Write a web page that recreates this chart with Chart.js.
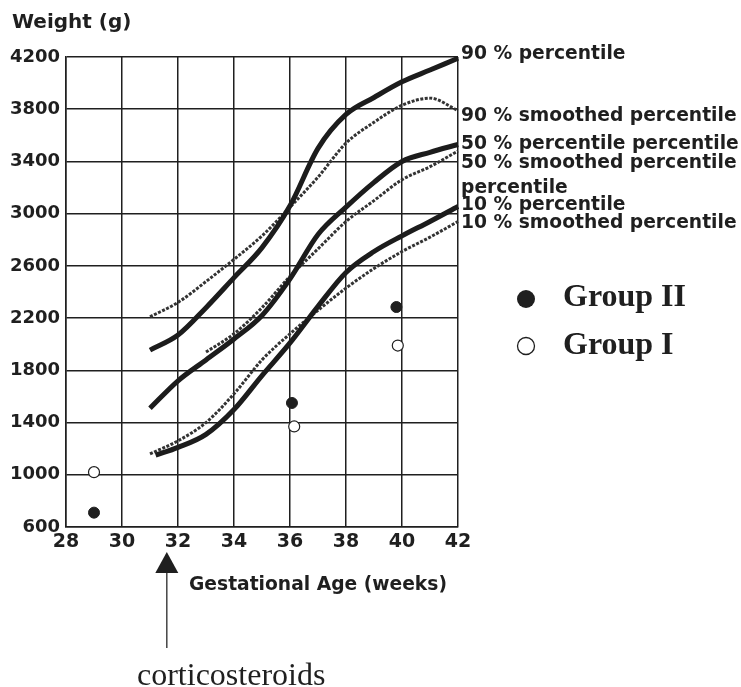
<!DOCTYPE html>
<html>
<head>
<meta charset="utf-8">
<script src="https://cdn.jsdelivr.net/npm/chart.js@4/dist/chart.umd.min.js"></script>
<style>
  html, body { margin: 0; padding: 0; background: #fff; }
  #wrap { width: 741px; height: 687px; }
</style>
</head>
<body>
<div id="wrap"><canvas id="myChart" width="741" height="687"></canvas></div>
<script>
// gestational weeks on the x axis
const weeks = [31, 32, 33, 34, 35, 36, 37, 38, 39, 40, 41, 42]
const weeksLow = [31.2, 32, 33, 34, 35, 36, 37, 38, 39, 40, 41, 42]
const weeksMid = [33, 34, 35, 36, 37, 38, 39, 40, 41, 42]

// percentile curves (g)
const p90 = [1955, 2070, 2280, 2510, 2740, 3060, 3500, 3760, 3890, 4010, 4100, 4190]
const p90smooth = [2210, 2320, 2480, 2650, 2830, 3050, 3280, 3540, 3700, 3830, 3885, 3790]
const p50 = [1510, 1720, 1880, 2040, 2220, 2500, 2840, 3050, 3240, 3400, 3470, 3530]
const p50smooth = [1940, 2080, 2280, 2520, 2730, 2940, 3100, 3260, 3360, 3480]
const p10 = [1150, 1210, 1310, 1500, 1760, 2010, 2290, 2550, 2710, 2830, 2940, 3055]
const p10smooth = [1160, 1260, 1400, 1620, 1880, 2080, 2260, 2430, 2580, 2710, 2820, 2940]

// individual groups
const group2Weeks = [29, 36.07, 39.8]
const group2Weight = [710, 1550, 2285]
const group1Weeks = [29, 36.15, 39.85]
const group1Weight = [1020, 1370, 1990]

const xTicks = [28, 30, 32, 34, 36, 38, 40, 42]
const yTicks = [600, 1000, 1400, 1800, 2200, 2600, 3000, 3400, 3800, 4200]
const steroidWeek = 31.6

const lineLabels = [
    {text: '90 % percentile', y: 59},
    {text: '90 % smoothed percentile', y: 121},
    {text: '50 % percentile percentile', y: 149},
    {text: '50 % smoothed percentile', y: 168},
    {text: 'percentile', y: 193},
    {text: '10 % percentile', y: 210},
    {text: '10 % smoothed percentile', y: 228}
]

function pts(xs, ys) {
    return xs.map((x, i) => ({x: x, y: ys[i]}))
}

function curve(label, xs, ys, dotted) {
    return {
        label: label,
        data: pts(xs, ys),
        borderColor: dotted ? '#333' : '#1c1c1c',
        borderWidth: dotted ? 3 : 5,
        borderDash: dotted ? [3, 1.5] : [],
        borderCapStyle: 'butt',
        pointRadius: 0,
        fill: false,
        cubicInterpolationMode: 'monotone',
        showLine: true
    }
}

const ink = '#1f1f1f'
const sans = '"DejaVu Sans", sans-serif'
const serif = '"Liberation Serif", "Times New Roman", serif'

const extras = {
    id: 'extras',
    afterDraw(chart) {
        const c = chart.ctx
        const xs = chart.scales.x
        c.save()
        c.fillStyle = ink
        c.textBaseline = 'alphabetic'
        c.textAlign = 'left'

        c.font = 'bold 20px ' + sans
        c.fillText('Weight (g)', 12, 28)

        c.font = 'bold 18.7px ' + sans
        c.fillText('Gestational Age (weeks)', 189, 590)

        lineLabels.forEach(l => c.fillText(l.text, 461, l.y))

        // legend
        c.beginPath()
        c.arc(526, 299, 9, 0, Math.PI * 2)
        c.fill()
        c.beginPath()
        c.arc(526, 346, 8.5, 0, Math.PI * 2)
        c.fillStyle = '#fff'
        c.fill()
        c.lineWidth = 1.3
        c.strokeStyle = ink
        c.stroke()
        c.fillStyle = ink
        c.font = 'bold 32px ' + serif
        c.fillText('Group II', 563, 306)
        c.fillText('Group I', 563, 354)

        // corticosteroid arrow
        const ax = xs.getPixelForValue(steroidWeek)
        c.beginPath()
        c.moveTo(ax, 552)
        c.lineTo(ax + 11.5, 573)
        c.lineTo(ax - 11.5, 573)
        c.closePath()
        c.fill()
        c.beginPath()
        c.moveTo(ax, 573)
        c.lineTo(ax, 648)
        c.lineWidth = 1.5
        c.strokeStyle = '#444'
        c.stroke()

        c.font = '32px ' + serif
        c.fillText('corticosteroids', 137, 685)
        c.restore()
    }
}

let ctx = document.getElementById('myChart').getContext('2d')

let chart = new Chart(ctx, {
    type: 'scatter',
    data: {
        datasets: [
            curve('90 % percentile', weeks, p90, false),
            curve('90 % smoothed percentile', weeks, p90smooth, true),
            curve('50 % percentile', weeks, p50, false),
            curve('50 % smoothed percentile', weeksMid, p50smooth, true),
            curve('10 % percentile', weeksLow, p10, false),
            curve('10 % smoothed percentile', weeks, p10smooth, true),
            {
                label: 'Group II',
                data: pts(group2Weeks, group2Weight),
                pointRadius: 5.5,
                pointBackgroundColor: ink,
                pointBorderColor: ink,
                pointBorderWidth: 1,
                showLine: false
            },
            {
                label: 'Group I',
                data: pts(group1Weeks, group1Weight),
                pointRadius: 5.5,
                pointBackgroundColor: '#fff',
                pointBorderColor: ink,
                pointBorderWidth: 1.2,
                showLine: false
            }
        ]
    },
    options: {
        responsive: false,
        animation: false,
        clip: false,
        layout: {padding: {top: 57, right: 283, bottom: 130, left: 0}},
        plugins: {legend: {display: false}, tooltip: {enabled: false}},
        scales: {
            x: {
                type: 'linear',
                min: 28,
                max: 42,
                afterBuildTicks: s => { s.ticks = xTicks.map(v => ({value: v})) },
                afterFit: s => { s.height = 30 },
                grid: {color: ink, lineWidth: 1.5, drawTicks: false},
                border: {color: ink, width: 1.5},
                ticks: {color: ink, font: {family: sans, size: 19, weight: 'bold'}, padding: 4, callback: v => String(v)}
            },
            y: {
                type: 'linear',
                min: 600,
                max: 4200,
                afterBuildTicks: s => { s.ticks = yTicks.map(v => ({value: v})) },
                afterFit: s => { s.width = 66 },
                grid: {color: ink, lineWidth: 1.5, drawTicks: false},
                border: {color: ink, width: 1.5},
                ticks: {color: ink, font: {family: sans, size: 18, weight: 'bold'}, padding: 6, callback: v => String(v)}
            }
        }
    },
    plugins: [extras]
})
</script>
</body>
</html>
